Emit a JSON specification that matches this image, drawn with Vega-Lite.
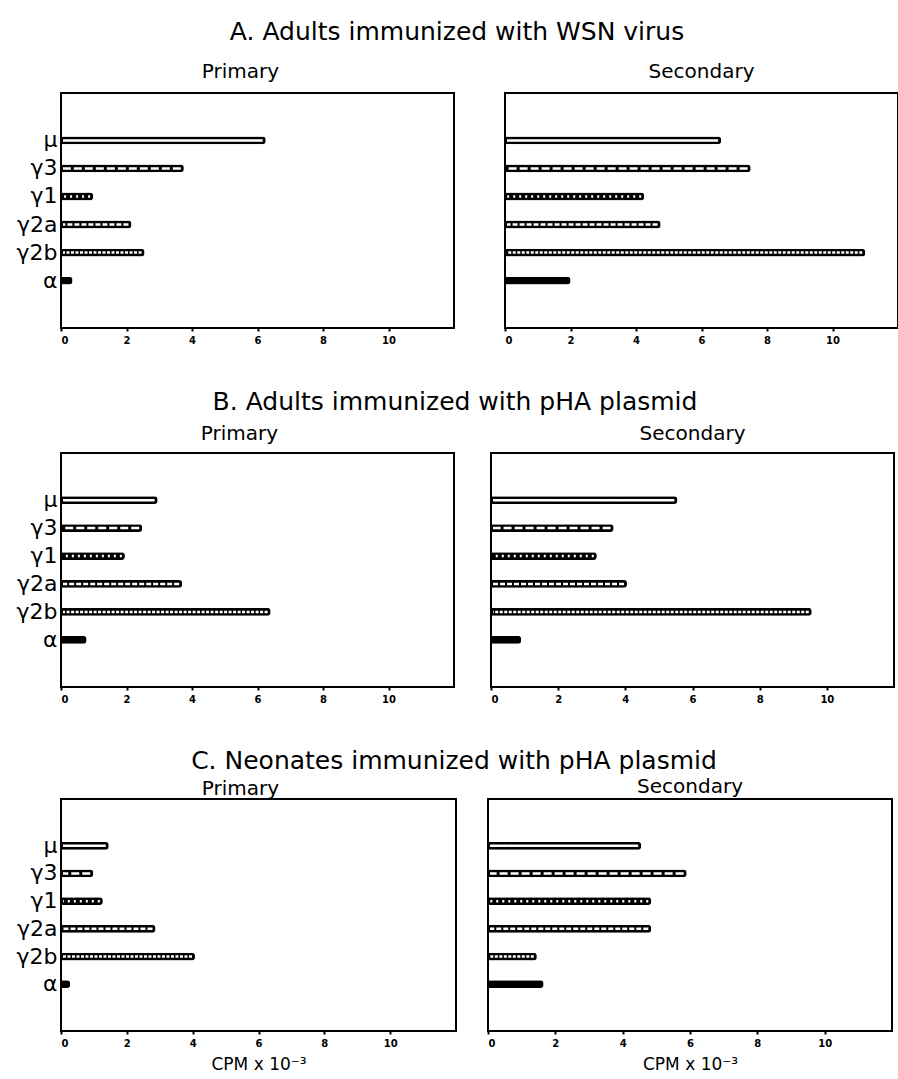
{
  "$schema": "https://vega.github.io/schema/vega-lite/v6.json",
  "padding": {"left": 15, "top": 20, "right": 1, "bottom": 2},
  "background": "white",
  "data": {"values": [
    {"group": "A", "phase": "Primary", "iso": "μ", "cpm": 6.25},
    {"group": "A", "phase": "Primary", "iso": "γ3", "cpm": 3.75},
    {"group": "A", "phase": "Primary", "iso": "γ1", "cpm": 0.98},
    {"group": "A", "phase": "Primary", "iso": "γ2a", "cpm": 2.15},
    {"group": "A", "phase": "Primary", "iso": "γ2b", "cpm": 2.55},
    {"group": "A", "phase": "Primary", "iso": "α", "cpm": 0.35},
    {"group": "A", "phase": "Secondary", "iso": "μ", "cpm": 6.6},
    {"group": "A", "phase": "Secondary", "iso": "γ3", "cpm": 7.5},
    {"group": "A", "phase": "Secondary", "iso": "γ1", "cpm": 4.25},
    {"group": "A", "phase": "Secondary", "iso": "γ2a", "cpm": 4.75},
    {"group": "A", "phase": "Secondary", "iso": "γ2b", "cpm": 11.0},
    {"group": "A", "phase": "Secondary", "iso": "α", "cpm": 2.0},
    {"group": "B", "phase": "Primary", "iso": "μ", "cpm": 2.95},
    {"group": "B", "phase": "Primary", "iso": "γ3", "cpm": 2.48},
    {"group": "B", "phase": "Primary", "iso": "γ1", "cpm": 1.95},
    {"group": "B", "phase": "Primary", "iso": "γ2a", "cpm": 3.7},
    {"group": "B", "phase": "Primary", "iso": "γ2b", "cpm": 6.4},
    {"group": "B", "phase": "Primary", "iso": "α", "cpm": 0.78},
    {"group": "B", "phase": "Secondary", "iso": "μ", "cpm": 5.55},
    {"group": "B", "phase": "Secondary", "iso": "γ3", "cpm": 3.65},
    {"group": "B", "phase": "Secondary", "iso": "γ1", "cpm": 3.15},
    {"group": "B", "phase": "Secondary", "iso": "γ2a", "cpm": 4.05},
    {"group": "B", "phase": "Secondary", "iso": "γ2b", "cpm": 9.55},
    {"group": "B", "phase": "Secondary", "iso": "α", "cpm": 0.9},
    {"group": "C", "phase": "Primary", "iso": "μ", "cpm": 1.45},
    {"group": "C", "phase": "Primary", "iso": "γ3", "cpm": 0.98},
    {"group": "C", "phase": "Primary", "iso": "γ1", "cpm": 1.27},
    {"group": "C", "phase": "Primary", "iso": "γ2a", "cpm": 2.87},
    {"group": "C", "phase": "Primary", "iso": "γ2b", "cpm": 4.07},
    {"group": "C", "phase": "Primary", "iso": "α", "cpm": 0.28},
    {"group": "C", "phase": "Secondary", "iso": "μ", "cpm": 4.55},
    {"group": "C", "phase": "Secondary", "iso": "γ3", "cpm": 5.9},
    {"group": "C", "phase": "Secondary", "iso": "γ1", "cpm": 4.85},
    {"group": "C", "phase": "Secondary", "iso": "γ2a", "cpm": 4.85},
    {"group": "C", "phase": "Secondary", "iso": "γ2b", "cpm": 1.45},
    {"group": "C", "phase": "Secondary", "iso": "α", "cpm": 1.65}
  ]},
  "vconcat": [
    {
      "title": {"text": "A. Adults immunized with WSN virus", "fontSize": 25, "fontWeight": "normal", "anchor": "middle", "offset": 16},
      "spacing": 48,
      "hconcat": [
        {
          "width": 393, "height": 235,
          "title": {"text": "Primary", "dx": -17, "offset": 11},
          "transform": [{"filter": "datum.group == 'A' && datum.phase == 'Primary'"}],
          "encoding": {
            "y": {"field": "iso", "type": "nominal", "scale": {"domain": [" ", "μ", "γ3", "γ1", "γ2a", "γ2b", "α", "  "], "paddingInner": 0.72, "paddingOuter": 0.55}, "axis": {"title": null, "labelFontSize": 22, "ticks": false, "labelPadding": 4}},
            "x": {"field": "cpm", "type": "quantitative", "scale": {"domain": [0, 12], "nice": false}, "axis": {"title": null, "values": [0, 2, 4, 6, 8, 10]}}
          },
          "layer": [
            {"mark": {"type": "bar", "color": "black", "cornerRadiusEnd": 3}},
            {"transform": [{"filter": "datum.iso != 'α'"}], "mark": {"type": "rule", "color": "white", "strokeWidth": 2.5, "xOffset": -3, "x2Offset": 2}, "encoding": {"x2": {"datum": 0}, "strokeDash": {"field": "iso", "type": "nominal", "scale": {"domain": ["μ", "γ3", "γ1", "γ2a", "γ2b"], "range": [[1, 0], [8, 3], [2, 4], [5, 2], [3, 1.5]]}, "legend": null}}}
          ]
        },
        {
          "width": 393, "height": 235,
          "title": {"text": "Secondary", "offset": 11},
          "transform": [{"filter": "datum.group == 'A' && datum.phase == 'Secondary'"}],
          "encoding": {
            "y": {"field": "iso", "type": "nominal", "scale": {"domain": [" ", "μ", "γ3", "γ1", "γ2a", "γ2b", "α", "  "], "paddingInner": 0.72, "paddingOuter": 0.55}, "axis": null},
            "x": {"field": "cpm", "type": "quantitative", "scale": {"domain": [0, 12], "nice": false}, "axis": {"title": null, "values": [0, 2, 4, 6, 8, 10]}}
          },
          "layer": [
            {"mark": {"type": "bar", "color": "black", "cornerRadiusEnd": 3}},
            {"transform": [{"filter": "datum.iso != 'α'"}], "mark": {"type": "rule", "color": "white", "strokeWidth": 2.5, "xOffset": -3, "x2Offset": 2}, "encoding": {"x2": {"datum": 0}, "strokeDash": {"field": "iso", "type": "nominal", "scale": {"domain": ["μ", "γ3", "γ1", "γ2a", "γ2b"], "range": [[1, 0], [8, 3], [2, 4], [5, 2], [3, 1.5]]}, "legend": null}}}
          ]
        }
      ]
    },
    {
      "title": {"text": "B. Adults immunized with pHA plasmid", "fontSize": 25, "fontWeight": "normal", "anchor": "middle", "offset": 8},
      "spacing": 34,
      "hconcat": [
        {
          "width": 393, "height": 234,
          "title": {"text": "Primary", "dx": -18, "offset": 9},
          "transform": [{"filter": "datum.group == 'B' && datum.phase == 'Primary'"}],
          "encoding": {
            "y": {"field": "iso", "type": "nominal", "scale": {"domain": [" ", "μ", "γ3", "γ1", "γ2a", "γ2b", "α", "  "], "paddingInner": 0.72, "paddingOuter": 0.55}, "axis": {"title": null, "labelFontSize": 22, "ticks": false, "labelPadding": 4}},
            "x": {"field": "cpm", "type": "quantitative", "scale": {"domain": [0, 12], "nice": false}, "axis": {"title": null, "values": [0, 2, 4, 6, 8, 10]}}
          },
          "layer": [
            {"mark": {"type": "bar", "color": "black", "cornerRadiusEnd": 3}},
            {"transform": [{"filter": "datum.iso != 'α'"}], "mark": {"type": "rule", "color": "white", "strokeWidth": 2.5, "xOffset": -3, "x2Offset": 2}, "encoding": {"x2": {"datum": 0}, "strokeDash": {"field": "iso", "type": "nominal", "scale": {"domain": ["μ", "γ3", "γ1", "γ2a", "γ2b"], "range": [[1, 0], [8, 3], [2, 4], [5, 2], [3, 1.5]]}, "legend": null}}}
          ]
        },
        {
          "width": 403, "height": 234,
          "title": {"text": "Secondary", "offset": 9},
          "transform": [{"filter": "datum.group == 'B' && datum.phase == 'Secondary'"}],
          "encoding": {
            "y": {"field": "iso", "type": "nominal", "scale": {"domain": [" ", "μ", "γ3", "γ1", "γ2a", "γ2b", "α", "  "], "paddingInner": 0.72, "paddingOuter": 0.55}, "axis": null},
            "x": {"field": "cpm", "type": "quantitative", "scale": {"domain": [0, 12], "nice": false}, "axis": {"title": null, "values": [0, 2, 4, 6, 8, 10]}}
          },
          "layer": [
            {"mark": {"type": "bar", "color": "black", "cornerRadiusEnd": 3}},
            {"transform": [{"filter": "datum.iso != 'α'"}], "mark": {"type": "rule", "color": "white", "strokeWidth": 2.5, "xOffset": -3, "x2Offset": 2}, "encoding": {"x2": {"datum": 0}, "strokeDash": {"field": "iso", "type": "nominal", "scale": {"domain": ["μ", "γ3", "γ1", "γ2a", "γ2b"], "range": [[1, 0], [8, 3], [2, 4], [5, 2], [3, 1.5]]}, "legend": null}}}
          ]
        }
      ]
    },
    {
      "title": {"text": "C. Neonates immunized with pHA plasmid", "fontSize": 25, "fontWeight": "normal", "anchor": "middle", "offset": 2},
      "spacing": 29,
      "hconcat": [
        {
          "width": 395, "height": 232,
          "title": {"text": "Primary", "dx": -18, "offset": 0},
          "transform": [{"filter": "datum.group == 'C' && datum.phase == 'Primary'"}],
          "encoding": {
            "y": {"field": "iso", "type": "nominal", "scale": {"domain": [" ", "μ", "γ3", "γ1", "γ2a", "γ2b", "α", "  "], "paddingInner": 0.72, "paddingOuter": 0.55}, "axis": {"title": null, "labelFontSize": 22, "ticks": false, "labelPadding": 4}},
            "x": {"field": "cpm", "type": "quantitative", "scale": {"domain": [0, 12], "nice": false}, "axis": {"title": "CPM x 10⁻³", "values": [0, 2, 4, 6, 8, 10]}}
          },
          "layer": [
            {"mark": {"type": "bar", "color": "black", "cornerRadiusEnd": 3}},
            {"transform": [{"filter": "datum.iso != 'α'"}], "mark": {"type": "rule", "color": "white", "strokeWidth": 2.5, "xOffset": -3, "x2Offset": 2}, "encoding": {"x2": {"datum": 0}, "strokeDash": {"field": "iso", "type": "nominal", "scale": {"domain": ["μ", "γ3", "γ1", "γ2a", "γ2b"], "range": [[1, 0], [8, 3], [2, 4], [5, 2], [3, 1.5]]}, "legend": null}}}
          ]
        },
        {
          "width": 404, "height": 232,
          "title": {"text": "Secondary", "offset": 2},
          "transform": [{"filter": "datum.group == 'C' && datum.phase == 'Secondary'"}],
          "encoding": {
            "y": {"field": "iso", "type": "nominal", "scale": {"domain": [" ", "μ", "γ3", "γ1", "γ2a", "γ2b", "α", "  "], "paddingInner": 0.72, "paddingOuter": 0.55}, "axis": null},
            "x": {"field": "cpm", "type": "quantitative", "scale": {"domain": [0, 12], "nice": false}, "axis": {"title": "CPM x 10⁻³", "values": [0, 2, 4, 6, 8, 10]}}
          },
          "layer": [
            {"mark": {"type": "bar", "color": "black", "cornerRadiusEnd": 3}},
            {"transform": [{"filter": "datum.iso != 'α'"}], "mark": {"type": "rule", "color": "white", "strokeWidth": 2.5, "xOffset": -3, "x2Offset": 2}, "encoding": {"x2": {"datum": 0}, "strokeDash": {"field": "iso", "type": "nominal", "scale": {"domain": ["μ", "γ3", "γ1", "γ2a", "γ2b"], "range": [[1, 0], [8, 3], [2, 4], [5, 2], [3, 1.5]]}, "legend": null}}}
          ]
        }
      ]
    }
  ],
  "spacing": 44,
  "config": {
    "font": "DejaVu Sans",
    "view": {"stroke": "black", "strokeWidth": 2},
    "axis": {"grid": false, "domain": false, "tickColor": "black", "labelColor": "black", "titleColor": "black"},
    "axisX": {"tickSize": 3, "tickWidth": 2, "labelFontSize": 10, "labelFontWeight": "bold", "labelPadding": 4, "titleFontSize": 17, "titleFontWeight": "normal", "titlePadding": 8},
    "title": {"fontSize": 20, "fontWeight": "normal", "color": "black"}
  }
}
